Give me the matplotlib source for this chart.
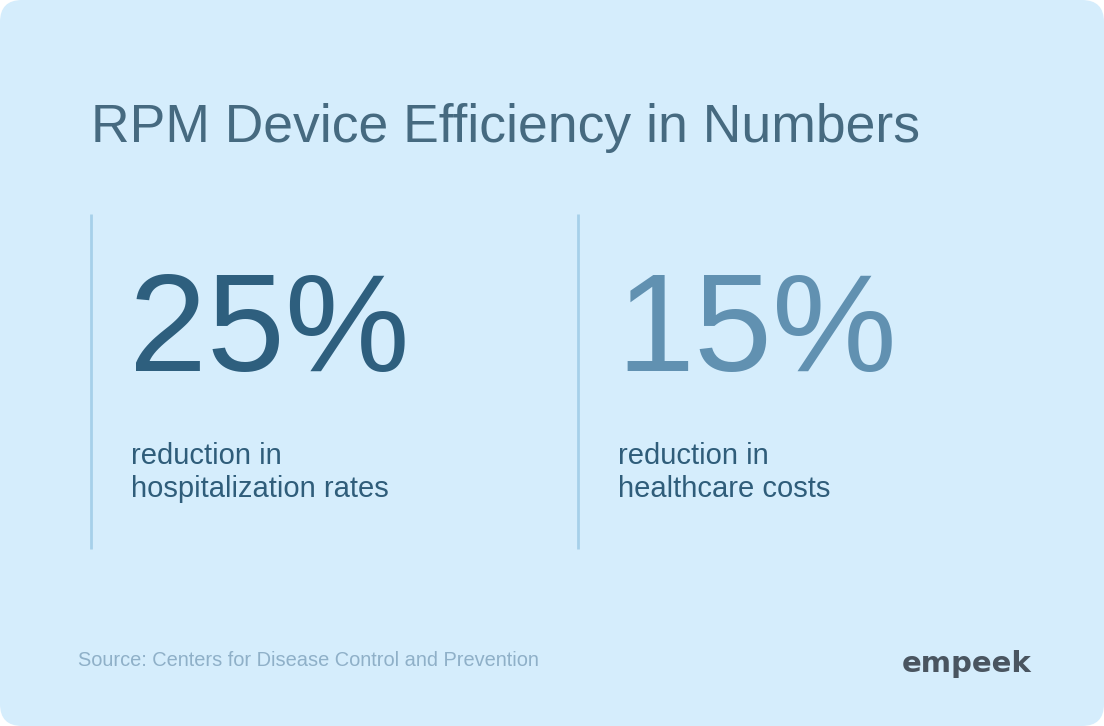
import matplotlib.pyplot as plt
from matplotlib.patches import FancyBboxPatch

# values shown on the card
stats = [25, 15]
labels = ["reduction in\nhospitalization rates", "reduction in\nhealthcare costs"]
title = "RPM Device Efficiency in Numbers"
source = "Source: Centers for Disease Control and Prevention"
brand = "empeek"

bg = "#d5edfc"
num_colors = ["#2e5f7e", "#6191b1"]
label_color = "#2f5d7a"

plt.rcParams['font.family'] = ['Liberation Sans', 'DejaVu Sans']

fig = plt.figure(figsize=(11.04, 7.26), dpi=100)
fig.patch.set_facecolor("white")
ax = fig.add_axes([0, 0, 1, 1])
ax.set_xlim(0, 1104)
ax.set_ylim(726, 0)
ax.axis("off")

card = FancyBboxPatch((0, 0), 1104, 726, boxstyle="round,pad=0,rounding_size=22",
                      facecolor=bg, edgecolor="none")
ax.add_patch(card)

# the original typeface is tightly tracked, so a smaller size keeps the width
ax.text(91, 142, title, fontsize=38.5, color="#466a80", va="baseline", ha="left")

col_x = [91, 578]
for i, (val, lab) in enumerate(zip(stats, labels)):
    x = col_x[i]
    ax.plot([x, x], [214, 549], color="#a6d0ea", lw=2, solid_capstyle="butt")
    ax.text(x + 38, 371, f"{val}%", fontsize=101, color=num_colors[i],
            va="baseline", ha="left")
    ax.text(x + 40, 497, lab, fontsize=21, color=label_color, va="baseline",
            ha="left", linespacing=1.25)

ax.text(78, 666, source, fontsize=14.4, color="#8fb0c8", va="baseline", ha="left")
ax.text(1032, 672, brand, fontsize=21, color="#4a5560", fontweight="bold",
        va="baseline", ha="right", family=['DejaVu Sans'])

fig.savefig("out.png", dpi=100, facecolor="white")
